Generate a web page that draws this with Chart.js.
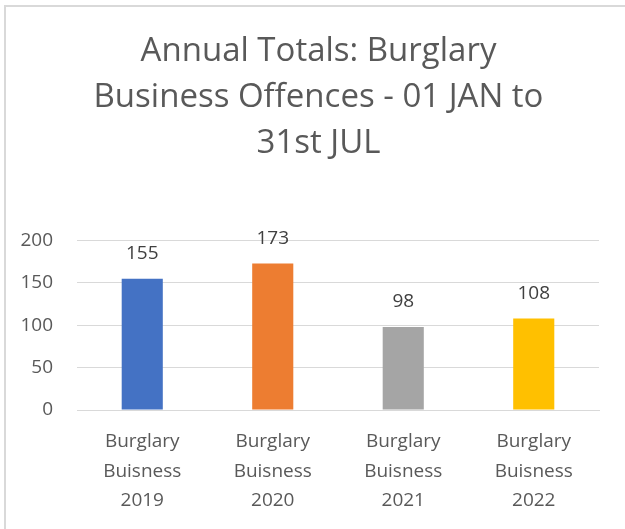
<!DOCTYPE html>
<html>
<head>
<meta charset="utf-8">
<script src="https://cdn.jsdelivr.net/npm/chart.js@4"></script>
<style>
  html, body { margin: 0; padding: 0; background: #fff; overflow: hidden; }
  #wrap { position: absolute; left: 4px; top: 5px; width: 640px; height: 540px; border: 2px solid #d9d9d9; box-sizing: border-box; }
  #cv { position: absolute; left: 0; top: 0; }
</style>
</head>
<body>
<div id="wrap"></div>
<canvas id="cv" width="625" height="529"></canvas>
<script>
var categories = [
  ["Burglary", "Buisness", "2019"],
  ["Burglary", "Buisness", "2020"],
  ["Burglary", "Buisness", "2021"],
  ["Burglary", "Buisness", "2022"]
];
var offences = [155, 173, 98, 108];
var barColours = ["#4472c4", "#ed7d31", "#a5a5a5", "#ffc000"];
var yTicks = [0, 50, 100, 150, 200];

var fontName = "'Open Sans', sans-serif";
var textGrey = "#595959";

// write the value above each bar
var valueLabels = {
  id: 'valueLabels',
  afterDatasetsDraw: function(chart) {
    var ctx = chart.ctx;
    var meta = chart.getDatasetMeta(0);
    ctx.save();
    ctx.font = "19px " + fontName;
    ctx.fillStyle = "#404040";
    ctx.textAlign = "center";
    ctx.textBaseline = "middle";
    meta.data.forEach(function(bar, i) {
      ctx.fillText(offences[i], bar.x, bar.y - 25);
    });
    ctx.restore();
  }
};

// the original title sits a little right of the canvas centre
var nudgeTitle = {
  id: 'nudgeTitle',
  afterLayout: function(chart) {
    var t = chart.titleBlock;
    if (t) { t.left += 9; t.right += 9; }
  }
};

var ctx = document.getElementById("cv").getContext('2d');
var myChart = new Chart(ctx, {
  type: 'bar',
  data: {
    labels: categories,
    datasets: [
      {
        data: offences,
        backgroundColor: barColours,
        borderWidth: 0,
        barPercentage: 0.63,
        categoryPercentage: 0.5
      }
    ]
  },
  plugins: [valueLabels, nudgeTitle],
  options: {
    responsive: false,
    animation: false,
    layout: { padding: { left: 20, right: 26, top: 28, bottom: 0 } },
    plugins: {
      legend: { display: false },
      tooltip: { enabled: false },
      title: {
        display: true,
        text: ["Annual Totals: Burglary", "Business Offences - 01 JAN to", "31st JUL"],
        color: textGrey,
        font: { family: fontName, size: 33, weight: 'normal', lineHeight: 1.4 },
        padding: { top: 0, bottom: 74 }
      }
    },
    scales: {
      x: {
        grid: { display: false, drawTicks: false },
        border: { color: "#d9d9d9", width: 1 },
        ticks: {
          color: textGrey,
          font: { family: fontName, size: 19, lineHeight: 1.55 },
          maxRotation: 0,
          padding: 17
        },
        afterFit: function(axis) {
          axis.paddingLeft = 0;
          axis.paddingRight = 0;
          axis.height = 119;
        }
      },
      y: {
        min: 0,
        max: 200,
        afterBuildTicks: function(axis) {
          axis.ticks = yTicks.map(function(v) { return { value: v }; });
        },
        afterFit: function(axis) {
          axis.width = 57;
        },
        grid: { color: "#d9d9d9", drawTicks: false },
        border: { display: false },
        ticks: {
          color: textGrey,
          font: { family: fontName, size: 19 },
          padding: 24
        }
      }
    }
  }
});
</script>
</body>
</html>
